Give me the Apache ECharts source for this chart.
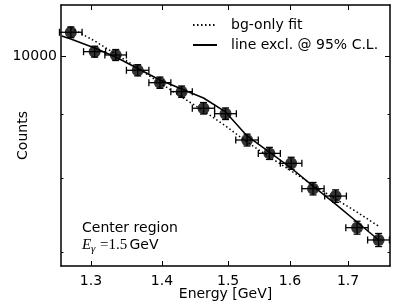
<!DOCTYPE html>
<html><head><meta charset="utf-8">
<script src="https://cdn.jsdelivr.net/npm/echarts@6/dist/echarts.min.js"></script>
<style>html,body{margin:0;padding:0;background:#fff}#c{width:407px;height:305px}</style>
</head><body><div id="c"></div>
<script>
// ---- data ----
const energy    = [1.273, 1.305, 1.334, 1.365, 1.397, 1.429, 1.462, 1.496, 1.530, 1.566, 1.602, 1.639, 1.678, 1.716, 1.755];
const counts    = [10441, 10079, 10018, 9743, 9526, 9371, 9093, 9003, 8582, 8376, 8226, 7855, 7750, 7317, 7155];
const energyErr = [0.015, 0.015, 0.015, 0.016, 0.016, 0.016, 0.017, 0.017, 0.018, 0.018, 0.018, 0.019, 0.019, 0.020, 0.020];
const countsErr = [102, 100, 100, 99, 98, 97, 95, 95, 93, 92, 91, 89, 88, 86, 85];

const bgFitEnergy = [1.273, 1.305, 1.334, 1.365, 1.397, 1.429, 1.462, 1.496, 1.530, 1.566, 1.602, 1.639, 1.678, 1.716, 1.755];
const bgFitCounts = [10523, 10277, 10036, 9784, 9520, 9282, 9049, 8804, 8551, 8322, 8114, 7908, 7709, 7527, 7337];

const lineExclEnergy = [1.261, 1.273, 1.305, 1.334, 1.365, 1.397, 1.429, 1.462, 1.496, 1.530, 1.566, 1.602, 1.639, 1.678, 1.716, 1.755];
const lineExclCounts = [10371, 10314, 10147, 9982, 9775, 9573, 9417, 9264, 9032, 8646, 8396, 8156, 7892, 7638, 7393, 7155];

const seriesNames = ['bg-only fit', 'line excl. @ 95% C.L.'];
const xTicks = [1.3, 1.4, 1.5, 1.6, 1.7];
const yMajorTicks = [10000];
const yMinorTicks = [7000, 8000, 9000];
const xRange = [1.26, 1.776];
const yRange = [6824, 10972];
const xTitle = 'Energy [GeV]';
const yTitle = 'Counts';
const noteLine1 = 'Center region';

// ---- chart ----
const FONT = 'DejaVu Sans';
const chart = echarts.init(document.getElementById('c'), null, {renderer: 'canvas'});

function xAxisDef(pos, main) {
  return {
    type: 'log', logBase: 10, position: pos, min: xRange[0], max: xRange[1],
    axisLine: {show: true, onZero: false, lineStyle: {color: '#000', width: 1.5}},
    axisTick: {show: true, inside: true, length: 5, customValues: xTicks, lineStyle: {color: '#000', width: 1}},
    axisLabel: {show: main, customValues: xTicks, margin: 8, color: '#000', fontFamily: FONT, fontSize: 14,
      formatter: v => Number(v).toFixed(1)},
    splitLine: {show: false}, minorTick: {show: false},
    name: main ? xTitle : '', nameLocation: 'middle', nameGap: 21, nameMoveOverlap: false,
    nameTextStyle: {color: '#000', fontFamily: FONT, fontSize: 14}
  };
}
function yAxisDef(pos, major, main) {
  return {
    type: 'log', logBase: 10, position: pos, min: yRange[0], max: yRange[1],
    axisLine: {show: major, onZero: false, lineStyle: {color: '#000', width: 1.5}},
    axisTick: {show: true, inside: true, length: major ? 5 : 2.5, customValues: major ? yMajorTicks : yMinorTicks,
      lineStyle: {color: '#000', width: 1}},
    axisLabel: {show: main, customValues: yMajorTicks, margin: 4, color: '#000', fontFamily: FONT, fontSize: 14,
      formatter: v => String(Math.round(v))},
    splitLine: {show: false}, minorTick: {show: false},
    name: main ? yTitle : '', nameLocation: 'middle', nameGap: 31, nameRotate: 90, nameMoveOverlap: false,
    nameTextStyle: {color: '#000', fontFamily: FONT, fontSize: 14}
  };
}

const points = energy.map((e, i) => [e, counts[i], energyErr[i], countsErr[i]]);

function errRender(params, api) {
  const x = api.value(0), y = api.value(1), xe = api.value(2), ye = api.value(3);
  const c = api.coord([x, y]);
  const l = api.coord([x - xe, y]), r = api.coord([x + xe, y]);
  const t = api.coord([x, y + ye]), b = api.coord([x, y - ye]);
  const st = {stroke: '#000', lineWidth: 1.3};
  const cap = 3.5;
  return {type: 'group', children: [
    {type: 'line', shape: {x1: l[0], y1: c[1], x2: r[0], y2: c[1]}, style: st},
    {type: 'line', shape: {x1: l[0], y1: c[1] - cap, x2: l[0], y2: c[1] + cap}, style: st},
    {type: 'line', shape: {x1: r[0], y1: c[1] - cap, x2: r[0], y2: c[1] + cap}, style: st},
    {type: 'line', shape: {x1: c[0], y1: t[1], x2: c[0], y2: b[1]}, style: st},
    {type: 'line', shape: {x1: c[0] - cap, y1: t[1], x2: c[0] + cap, y2: t[1]}, style: st},
    {type: 'line', shape: {x1: c[0] - cap, y1: b[1], x2: c[0] + cap, y2: b[1]}, style: st}
  ]};
}

const option = {
  animation: false,
  backgroundColor: '#fff',
  textStyle: {fontFamily: FONT},
  grid: {left: 61, right: 17, top: 5, bottom: 39, outerBoundsMode: 'none', containLabel: false},
  xAxis: [xAxisDef('bottom', true), xAxisDef('top', false)],
  yAxis: [yAxisDef('left', true, true), yAxisDef('left', false, false), yAxisDef('right', true, false), yAxisDef('right', false, false)],
  legend: {
    orient: 'vertical', left: 192, top: 18, padding: 0, itemWidth: 24, itemHeight: 14, itemGap: 6,
    data: seriesNames,
    itemStyle: {opacity: 0},
    textStyle: {color: '#000', fontFamily: FONT, fontSize: 14, padding: [0, 0, 0, 9]},
    selectedMode: false
  },
  series: [
    {name: seriesNames[0], type: 'line', xAxisIndex: 0, yAxisIndex: 0, symbol: 'none', z: 2,
      data: bgFitEnergy.map((e, i) => [e, bgFitCounts[i]]),
      lineStyle: {color: '#000', width: 1.5, type: [1.5, 2.5]}, itemStyle: {color: '#000'}},
    {name: seriesNames[1], type: 'line', xAxisIndex: 0, yAxisIndex: 0, symbol: 'none', z: 2,
      data: lineExclEnergy.map((e, i) => [e, lineExclCounts[i]]),
      lineStyle: {color: '#000', width: 1.5, type: 'solid'}, itemStyle: {color: '#000'}},
    {type: 'custom', xAxisIndex: 0, yAxisIndex: 0, renderItem: errRender, data: points,
      encode: {x: 0, y: 1}, z: 3, silent: true},
    {type: 'scatter', xAxisIndex: 0, yAxisIndex: 0, data: points.map(p => [p[0], p[1]]),
      symbol: 'circle', symbolSize: 12, itemStyle: {color: '#000'}, z: 4}
  ],
  graphic: [
    {type: 'text', style: {x: 82, y: 228, text: noteLine1, fill: '#000', font: '14px "DejaVu Sans"', verticalAlign: 'middle'}},
    {type: 'text', style: {x: 82, y: 245, text: 'E', fill: '#000', font: 'italic 15px "Liberation Serif"', verticalAlign: 'middle'}},
    {type: 'text', style: {x: 91, y: 249, text: 'γ', fill: '#000', font: 'italic 11px "Liberation Serif"', verticalAlign: 'middle'}},
    {type: 'text', style: {x: 100, y: 245, text: '=1.5', fill: '#000', font: '15px "Liberation Serif"', verticalAlign: 'middle'}},
    {type: 'text', style: {x: 125, y: 245, text: ' GeV', fill: '#000', font: '14px "DejaVu Sans"', verticalAlign: 'middle'}}
  ]
};
chart.setOption(option);
</script>
</body></html>
